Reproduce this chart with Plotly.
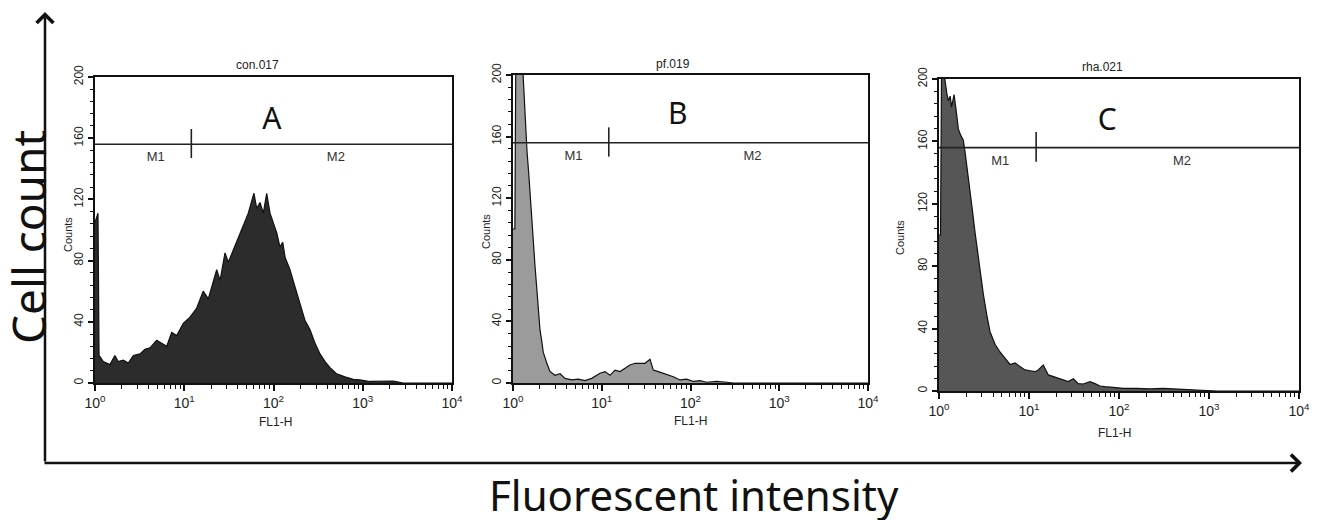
import plotly.graph_objects as go

# ---------------- data (FL1-H intensity, cell counts) ----------------
a_intensity = [1.00, 1.08, 1.11, 1.14, 1.24, 1.47, 1.67, 1.82, 2.08, 2.36, 2.69, 3.19, 3.63, 4.13,
               4.91, 5.59, 6.36, 7.23, 8.23, 9.75, 11.6, 13.8, 16.3, 18.6, 21.2, 23.1, 25.2, 28.6,
               31.2, 35.5, 38.7, 45.9, 52.2, 57.0, 60.4, 64.9, 70.6, 76.9, 83.9, 91.4, 99.5, 109,
               118, 127, 135, 153, 174, 198, 225, 256, 292, 332, 378, 430, 511, 632, 783, 931,
               1205, 2200, 2845, 10000]
a_counts = [105, 111, 18, 17, 14, 12, 18, 14, 15, 13, 18, 19, 22, 23,
            28, 26, 24, 33, 31, 39, 43, 49, 60, 55, 67, 74, 67, 85,
            79, 87, 92, 103, 111, 119, 124, 114, 118, 111, 124, 111, 104, 98,
            89, 92, 82, 74, 63, 52, 41, 35, 26, 19, 14, 10, 6, 4, 2.4, 2,
            1, 1.3, 0, 0]

b_intensity = [1.00, 1.05, 1.08, 1.20, 1.26, 1.33, 1.38, 1.44, 1.50, 1.55, 1.62, 1.69, 1.77, 1.85,
               1.93, 2.01, 2.11, 2.19, 2.40, 2.61, 2.97, 3.39, 3.85, 4.59, 5.44, 6.48, 7.70, 9.56,
               10.9, 12.4, 14.1, 16.1, 18.3, 20.8, 23.7, 27.0, 30.7, 35.0, 38.1, 43.4, 49.4, 56.2,
               64.0, 76.2, 90.6, 108, 128, 152, 197, 256, 304, 10000]
b_counts = [100, 100, 230, 260, 215, 185, 168, 150, 137, 124, 108, 92, 76, 62,
            48, 35, 27, 20, 13, 7.5, 5, 6, 3, 2, 2.5, 1.5, 3, 6.3,
            7.4, 5, 8.4, 7.4, 9.5, 11.7, 12.8, 13, 12.8, 15.4, 8.4, 7.4, 6.3, 5.2,
            4.1, 2, 2.5, 1, 1.5, 0.5, 1, 0.5, 0, 0]

c_intensity = [1.00, 1.04, 1.07, 1.17, 1.22, 1.27, 1.33, 1.38, 1.47, 1.55, 1.64, 1.74, 1.86, 1.95,
               2.06, 2.21, 2.37, 2.51, 2.67, 2.86, 3.11, 3.39, 3.69, 4.19, 4.76, 5.41, 6.15, 6.99,
               7.94, 9.03, 10.3, 11.7, 12.7, 14.4, 16.4, 18.6, 21.2, 24.0, 27.3, 31.1, 35.3, 40.1,
               47.6, 54.1, 61.5, 69.9, 86.4, 112, 157, 221, 311, 438, 615, 864, 1218, 10000]
c_counts = [100, 100, 215, 197, 191, 186, 189, 182, 190, 180, 168, 164, 161, 153,
            143, 127, 114, 102, 90, 77, 62, 49, 38, 30, 25, 21, 17, 18,
            15.6, 13.5, 13, 12.4, 13.5, 16.7, 10.3, 9.2, 8.1, 7, 6, 7.8, 4.7, 4.5,
            6, 4.7, 3.2, 2.8, 2.1, 1.7, 1.7, 1.3, 1.7, 1.3, 0.9, 0.6, 0, 0]

panel_titles = ["con.017", "pf.019", "rha.021"]
panel_letters = ["A", "B", "C"]
marker_names = ["M1", "M2"]
marker_level = 156          # counts level of the M1/M2 bar
marker_split = 12           # FL1-H boundary between M1 and M2
marker_tick = [147, 166]    # vertical extent of the boundary tick
x_tick_vals = [1, 10, 100, 1000, 10000]
x_tick_text = ["10<sup>0</sup>", "10<sup>1</sup>", "10<sup>2</sup>", "10<sup>3</sup>", "10<sup>4</sup>"]
y_tick_vals = [0, 40, 80, 120, 160, 200]

W, H = 1320, 520
OFF = 8  # page body margin: figure is drawn 8px right/down of the window origin
def px(x):
    return (x - OFF) / W
def py(y):
    return 1 - (y - OFF) / H

panels = [
    dict(x=a_intensity, y=a_counts, fill="#2c2c2c", dx=(95, 452), dy=(383, 77),
         letter_pos=(96, 171), title_pos=(257, 65), counts_pos=(68, 235), fl_pos=(275, 422)),
    dict(x=b_intensity, y=b_counts, fill="#9b9b9b", dx=(513, 868), dy=(383, 75),
         letter_pos=(72, 173), title_pos=(673, 64), counts_pos=(486, 232), fl_pos=(690, 421)),
    dict(x=c_intensity, y=c_counts, fill="#565656", dx=(939, 1299), dy=(391, 79),
         letter_pos=(74, 172), title_pos=(1102, 67), counts_pos=(900, 238), fl_pos=(1114, 433)),
]

small_font = "Liberation Sans, Arial, sans-serif"
big_font = "Noto Sans, Open Sans, sans-serif"

minor_x = [m * 10 ** d for d in range(4) for m in range(2, 10)]

fig = go.Figure()
annotations = []
for i, p in enumerate(panels):
    sfx = "" if i == 0 else str(i + 1)
    xa, ya = "x" + sfx, "y" + sfx
    fig.add_trace(go.Scatter(x=p["x"], y=p["y"], mode="lines", fill="tozeroy",
                             fillcolor=p["fill"], line=dict(color="#111111", width=1.2),
                             xaxis=xa, yaxis=ya, showlegend=False, hoverinfo="skip"))
    # M1/M2 marker bar
    fig.add_trace(go.Scatter(x=[x_tick_vals[0], x_tick_vals[-1]], y=[marker_level, marker_level],
                             mode="lines", line=dict(color="#222222", width=1.6),
                             xaxis=xa, yaxis=ya, showlegend=False, hoverinfo="skip"))
    fig.add_trace(go.Scatter(x=[marker_split, marker_split], y=marker_tick,
                             mode="lines", line=dict(color="#222222", width=1.6),
                             xaxis=xa, yaxis=ya, showlegend=False, hoverinfo="skip"))
    fig.add_trace(go.Scatter(x=[4.8, 500], y=[147, 147], mode="text", text=marker_names,
                             textfont=dict(family=small_font, size=13, color="#333333"),
                             xaxis=xa, yaxis=ya, showlegend=False, hoverinfo="skip"))
    fig.add_trace(go.Scatter(x=[p["letter_pos"][0]], y=[p["letter_pos"][1]], mode="text",
                             text=[panel_letters[i]],
                             textfont=dict(family=big_font, size=30, color="#111111"),
                             xaxis=xa, yaxis=ya, showlegend=False, hoverinfo="skip"))

    fig.update_layout(**{
        "xaxis" + sfx: dict(type="log", range=[0, 4], domain=[px(p["dx"][0]), px(p["dx"][1])],
                            anchor=ya, automargin=False,
                            showline=True, linecolor="#111111", linewidth=1.5, mirror=True,
                            ticks="outside", ticklen=6, tickwidth=1.5, tickcolor="#111111",
                            tickmode="array", tickvals=x_tick_vals, ticktext=x_tick_text,
                            tickfont=dict(family=small_font, size=14, color="#222222"),
                            minor=dict(tickmode="array", tickvals=minor_x, ticks="outside",
                                       ticklen=4, tickwidth=1, tickcolor="#111111", showgrid=False),
                            showgrid=False, zeroline=False),
        "yaxis" + sfx: dict(range=[0, 200], domain=[py(p["dy"][0]), py(p["dy"][1])],
                            anchor=xa, automargin=False,
                            showline=True, linecolor="#111111", linewidth=1.5, mirror=True,
                            ticks="outside", ticklen=5, tickwidth=1.5, tickcolor="#111111",
                            tickmode="array", tickvals=y_tick_vals, tickangle=-90,
                            tickfont=dict(family=small_font, size=12, color="#222222"),
                            minor=dict(dtick=8, ticks="outside", ticklen=3, tickwidth=1,
                                       tickcolor="#111111", showgrid=False),
                            showgrid=False, zeroline=False),
    })
    annotations.append(dict(text=panel_titles[i], x=px(p["title_pos"][0]), y=py(p["title_pos"][1]),
                            xref="paper", yref="paper", showarrow=False,
                            xanchor="center", yanchor="middle",
                            font=dict(family=small_font, size=12, color="#222222")))
    annotations.append(dict(text="Counts", x=px(p["counts_pos"][0]), y=py(p["counts_pos"][1]),
                            xref="paper", yref="paper", showarrow=False, textangle=-90,
                            xanchor="center", yanchor="middle",
                            font=dict(family=small_font, size=11, color="#222222")))
    annotations.append(dict(text="FL1-H", x=px(p["fl_pos"][0]), y=py(p["fl_pos"][1]),
                            xref="paper", yref="paper", showarrow=False,
                            xanchor="center", yanchor="middle",
                            font=dict(family=small_font, size=12, color="#222222")))

# big axes arrows
annotations.append(dict(x=px(45), y=py(12), ax=0, ay=451, xref="paper", yref="paper",
                        axref="pixel", ayref="pixel", text="", showarrow=True, arrowhead=4,
                        arrowsize=1.3, arrowwidth=2.5, arrowcolor="#111111"))
annotations.append(dict(x=px(1302), y=py(463), ax=-1259, ay=0, xref="paper", yref="paper",
                        axref="pixel", ayref="pixel", text="", showarrow=True, arrowhead=4,
                        arrowsize=1.3, arrowwidth=2.5, arrowcolor="#111111"))
annotations.append(dict(text="Cell count", x=px(28), y=py(237), xref="paper", yref="paper",
                        showarrow=False, textangle=-90, xanchor="center", yanchor="middle",
                        font=dict(family=big_font, size=46, color="#111111")))
annotations.append(dict(text="Fluorescent intensity", x=px(694), y=py(494), xref="paper", yref="paper",
                        showarrow=False, xanchor="center", yanchor="middle",
                        font=dict(family=big_font, size=42, color="#111111")))

fig.update_layout(width=W, height=H, autosize=False, margin=dict(l=0, r=0, t=0, b=0),
                  paper_bgcolor="white", plot_bgcolor="white", annotations=annotations)

fig.write_html("out.html")
